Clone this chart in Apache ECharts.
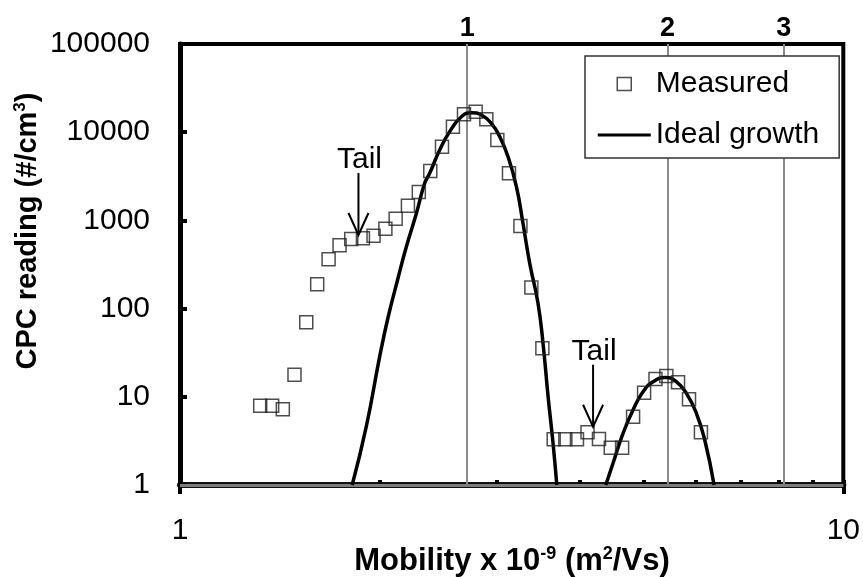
<!DOCTYPE html>
<html>
<head>
<meta charset="utf-8">
<script src="https://cdn.jsdelivr.net/npm/echarts@6/dist/echarts.min.js"></script>
<style>
  html, body { margin: 0; padding: 0; background: #fff; }
  #chart { width: 863px; height: 577px; }
</style>
</head>
<body>
<div id="chart"></div>
<script>
// Measured CPC counts versus electrical mobility (x 1e-9 m2/Vs)
const measuredMobility = [1.321, 1.377, 1.429, 1.488, 1.550, 1.610, 1.675, 1.740, 1.812, 1.887,
  1.958, 2.040, 2.114, 2.206, 2.291, 2.384, 2.483, 2.579, 2.680, 2.791,
  2.896, 3.009, 3.133, 3.260, 3.386, 3.518, 3.659, 3.810, 3.967, 4.115,
  4.282, 4.461, 4.640, 4.820, 5.008, 5.210, 5.410, 5.634, 5.853, 6.100];
const measuredCount = [7.93, 7.93, 7.22, 17.8, 70, 189, 362, 522, 615, 627,
  671, 805, 1045, 1468, 2099, 3631, 6850, 11540, 15950, 17100,
  14000, 8160, 3420, 864, 174, 35.5, 3.30, 3.30, 3.30, 3.96,
  3.32, 2.65, 2.65, 5.95, 11.1, 15.9, 17.2, 14.6, 9.37, 3.96];

// Ideal growth curve, singly charged peak
const idealMobility1 = [1.818, 1.909, 2.000, 2.058, 2.128, 2.194, 2.272, 2.338, 2.379, 2.463,
  2.550, 2.656, 2.750, 2.847, 2.947, 3.034, 3.123, 3.215, 3.289, 3.367,
  3.465, 3.526, 3.589, 3.651, 3.699];
const idealCount1 = [1, 4.58, 28.5, 78.2, 211, 503, 1203, 2635, 3420, 6280,
  10140, 14990, 16640, 15670, 12610, 8890, 5270, 2410, 927, 326,
  115, 40.4, 10.0, 2.97, 1];

// Ideal growth curve, doubly charged peak
const idealMobility2 = [4.384, 4.496, 4.655, 4.819, 4.989, 5.166, 5.394, 5.604, 5.801, 6.005, 6.182, 6.385];
const idealCount2 = [1, 1.762, 3.86, 7.09, 11.4, 14.8, 16.6, 14.8, 10.95, 6.50, 3.24, 1];

// Charge-state reference lines and their labels
const chargeMobility = [2.712, 5.43, 8.135];
const chargeLabels = ['1', '2', '3'];

// Annotated tails (arrow tip in data coordinates)
const tailNotes = [
  { text: 'Tail', mobility: 1.858, count: 683 },
  { text: 'Tail', mobility: 4.195, count: 4.58 }
];

const FONT = '"Liberation Sans", Arial, sans-serif';

const pairs = (xs, ys) => xs.map((x, i) => [x, ys[i]]);

const chart = echarts.init(document.getElementById('chart'), null, { renderer: 'canvas' });

const curveStyle = { color: '#000', width: 3.5 };

// Legend icons drawn inside a 53x14 box: hollow centred square, and a plain line
const squareIcon = 'path://M0,0 M53,14 M19.5,0.5 L33.5,0.5 L33.5,13.5 L19.5,13.5 Z';
const lineIcon = 'path://M0,0 M53,14 M0,5.5 L53,5.5 L53,8.5 L0,8.5 Z';

const option = {
  animation: false,
  backgroundColor: '#fff',
  grid: {
    left: 180, right: 19, top: 44, bottom: 92,
    show: true, borderColor: '#000', borderWidth: 4, backgroundColor: 'transparent'
  },
  legend: {
    orient: 'vertical',
    left: 585, top: 56,
    itemWidth: 53, itemHeight: 14, itemGap: 17,
    padding: [11, 20, 6, 12],
    backgroundColor: '#fff',
    borderColor: '#333', borderWidth: 1.5, borderRadius: 0,
    selectedMode: false,
    textStyle: { fontSize: 30, fontFamily: FONT, color: '#000', lineHeight: 34 },
    data: [
      { name: 'Measured', icon: squareIcon,
        itemStyle: { color: 'rgba(0,0,0,0)', borderColor: '#222', borderWidth: 1.5 } },
      { name: 'Ideal growth', icon: lineIcon,
        itemStyle: { color: '#000', borderWidth: 0 } }
    ]
  },
  xAxis: [
    {
      type: 'log', logBase: 10, min: 1, max: 10, position: 'bottom',
      axisLine: { show: true, onZero: false, lineStyle: { color: '#111', width: 6 } },
      axisTick: { show: true, inside: false, length: 9, lineStyle: { color: '#000', width: 4 } },
      axisLabel: { margin: 31, fontSize: 30, fontFamily: FONT, color: '#000', formatter: v => String(Math.round(v)) },
      splitLine: { show: false },
      minorTick: { show: false }
    },
    {
      // inner minor ticks at 2..9
      type: 'log', logBase: 10, min: 1, max: 10, position: 'bottom',
      axisLine: { show: false },
      axisTick: { show: true, inside: true, length: 5, lineStyle: { color: '#000', width: 4 } },
      minorTick: { show: true, splitNumber: 9, length: 5, lineStyle: { color: '#000', width: 4 } },
      axisLabel: { show: false },
      splitLine: { show: false }
    }
  ],
  yAxis: {
    type: 'log', logBase: 10, min: 1, max: 100000,
    axisLine: { show: true, onZero: false, lineStyle: { color: '#000', width: 5 } },
    axisTick: { show: true, inside: true, length: 7, lineStyle: { color: '#000', width: 4 } },
    axisLabel: { margin: 30, fontSize: 30, fontFamily: FONT, color: '#000', formatter: v => String(Math.round(v)) },
    splitLine: { show: false }
  },
  series: [
    {
      name: 'Ideal growth', type: 'line', smooth: true, symbol: 'none',
      data: pairs(idealMobility1, idealCount1),
      lineStyle: curveStyle, itemStyle: { color: '#000' }, z: 3,
      markLine: {
        silent: true, symbol: 'none', z: 1, animation: false,
        data: chargeMobility.map((v, i) => ({
          xAxis: v,
          lineStyle: { color: '#8c8c8c', width: 2, type: 'solid' },
          label: { show: true, position: 'end', formatter: chargeLabels[i], distance: 2,
                   fontSize: 27, fontWeight: 'bold', fontFamily: FONT, color: '#000' }
        })).concat([{
          yAxis: 1,
          lineStyle: { color: '#7d7d7d', width: 3, type: 'solid' },
          label: { show: false }
        }])
      }
    },
    {
      name: 'Ideal growth', type: 'line', smooth: true, symbol: 'none',
      data: pairs(idealMobility2, idealCount2),
      lineStyle: curveStyle, itemStyle: { color: '#000' }, z: 3
    },
    {
      name: 'Measured', type: 'scatter', symbol: 'rect', symbolSize: 13,
      data: pairs(measuredMobility, measuredCount),
      itemStyle: { color: 'rgba(0,0,0,0)', borderColor: '#222', borderWidth: 1.5 }, z: 4
    }
  ]
};

chart.setOption(option);

// Axis titles and tail annotations
const graphics = [
  {
    type: 'text', x: 28, y: 231, rotation: Math.PI / 2,
    style: {
      text: 'CPC reading (#/cm{sup|3})',
      fontSize: 29, fontWeight: 'bold', fontFamily: FONT, fill: '#000',
      align: 'center', verticalAlign: 'middle', lineHeight: 32,
      rich: { sup: { fontSize: 17, fontWeight: 'bold', fontFamily: FONT, verticalAlign: 'top', lineHeight: 32 } }
    }
  },
  {
    type: 'text', x: 512, y: 561,
    style: {
      text: 'Mobility x 10{sup|-9} (m{sup|2}/Vs)',
      fontSize: 31, fontWeight: 'bold', fontFamily: FONT, fill: '#000',
      align: 'center', verticalAlign: 'middle', lineHeight: 32,
      rich: { sup: { fontSize: 18, fontWeight: 'bold', fontFamily: FONT, verticalAlign: 'top', lineHeight: 32 } }
    }
  }
];

tailNotes.forEach(note => {
  const [tx, ty] = chart.convertToPixel({ gridIndex: 0 }, [note.mobility, note.count]);
  graphics.push(
    {
      type: 'text', x: tx + 1, y: ty - 75, z: 10,
      style: { text: note.text, fontSize: 30, fontFamily: FONT, fill: '#000', align: 'center', verticalAlign: 'middle' }
    },
    {
      type: 'line', z: 10,
      shape: { x1: tx, y1: ty - 62, x2: tx, y2: ty },
      style: { stroke: '#000', lineWidth: 2 }
    },
    {
      type: 'polyline', z: 10,
      shape: { points: [[tx - 10, ty - 22], [tx, ty], [tx + 10, ty - 22]] },
      style: { stroke: '#000', lineWidth: 2, fill: null }
    }
  );
});

chart.setOption({ graphic: graphics });
</script>
</body>
</html>
